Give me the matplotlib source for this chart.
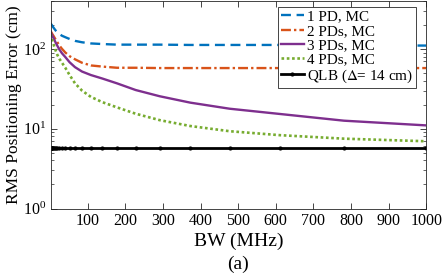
import numpy as np
import matplotlib
matplotlib.use("Agg")
import matplotlib.pyplot as plt

plt.rcParams['font.family'] = ['Liberation Serif', 'DejaVu Serif']
plt.rcParams['mathtext.fontset'] = 'stix'
plt.rcParams['font.size'] = 11.5

bw = [1, 1.28, 1.64, 2.1, 2.68, 3.43, 4.39, 5.62, 7.2, 9.2, 11.8, 15.1, 19.3, 24.7,
      31.6, 40.4, 51.8, 66.2, 84.8, 108.5, 138.9, 177.8, 227.6, 291.3, 372.8,
      477.1, 610.5, 781.3, 1000]

pd1 = [210, 209, 208, 206, 204, 202, 199, 195, 190, 184, 177, 169, 161, 153,
       146, 140, 133, 126, 121, 117, 115, 113, 113, 113, 112, 112, 112, 111, 110]
pd2 = [168, 167, 166, 165, 163, 161, 158, 154, 150, 145, 138, 130, 121, 110,
       100, 90, 81, 74, 67, 62, 60, 58, 58, 57.5, 57.5, 57.5, 57.5, 57.5, 57.5]
pd3 = [162, 161, 160, 158, 156, 154, 151, 147, 142, 136, 128, 119, 109, 98,
       88, 79, 68, 59, 52, 47, 42.5, 37, 30.5, 25.5, 21.2, 17.8, 15.3, 12.6, 11.0]
pd4 = [154, 152, 150, 147, 144, 140, 135, 129, 122, 114, 104, 94, 84, 75,
       67, 58, 47, 37, 30, 25, 21.5, 18.5, 15.4, 12.8, 10.8, 9.3, 8.3, 7.5, 6.96]
qlb = [5.75] * len(bw)

labels = ['1 PD, MC', '2 PDs, MC', '3 PDs, MC', '4 PDs, MC', r'QLB ($\Delta$= 14 cm)']
xticks = [100, 200, 300, 400, 500, 600, 700, 800, 900, 1000]

fig = plt.figure(figsize=(4.43, 2.74), dpi=100)
ax = fig.add_axes([0.114, 0.239, 0.848, 0.758])

ax.plot(bw, pd1, color='#0072BD', ls=(0, (4.2, 2.4)), lw=1.7, label=labels[0])
ax.plot(bw, pd2, color='#D95319', ls=(0, (4.2, 1.3, 1.0, 1.3)), lw=1.7, label=labels[1])
ax.plot(bw, pd3, color='#7E2F8E', ls='-', lw=1.7, label=labels[2])
ax.plot(bw, pd4, color='#77AC30', ls=(0, (1, 1)), lw=1.9, label=labels[3])
ax.plot(bw, qlb, color='black', ls='-', lw=2.0, marker='.', ms=4, label=labels[4])

ax.set_yscale('log')
ax.set_xlim(1, 1000)
ax.set_ylim(1, 400)
ax.set_xticks(xticks)
ax.set_xticklabels([str(t) for t in xticks])
ax.set_yticks([1, 10, 100])
ax.tick_params(which='both', direction='in', top=True, right=True, colors='#262626',
               labelcolor='black', labelsize=11.5)
ax.tick_params(which='major', length=4, width=0.6, pad=3)
ax.tick_params(which='minor', length=2, width=0.5)
for s in ax.spines.values():
    s.set_color('#262626')
    s.set_linewidth(0.6)

ax.set_ylabel('RMS Positioning Error (cm)', labelpad=1, fontsize=12.5)
ax.set_xlabel('BW (MHz)', labelpad=3, fontsize=14)
fig.text(0.537, 0.036, '(a)', ha='center', va='center', fontsize=14)

leg = ax.legend(loc='upper right', bbox_to_anchor=(0.98, 0.985), frameon=True,
                fancybox=False, edgecolor='#262626', framealpha=1,
                handlelength=1.5, handletextpad=0.2, labelspacing=0.05,
                borderpad=0.2, borderaxespad=0.2, fontsize=10.9)
leg.get_frame().set_linewidth(0.6)

fig.savefig('out.png', dpi=100)
